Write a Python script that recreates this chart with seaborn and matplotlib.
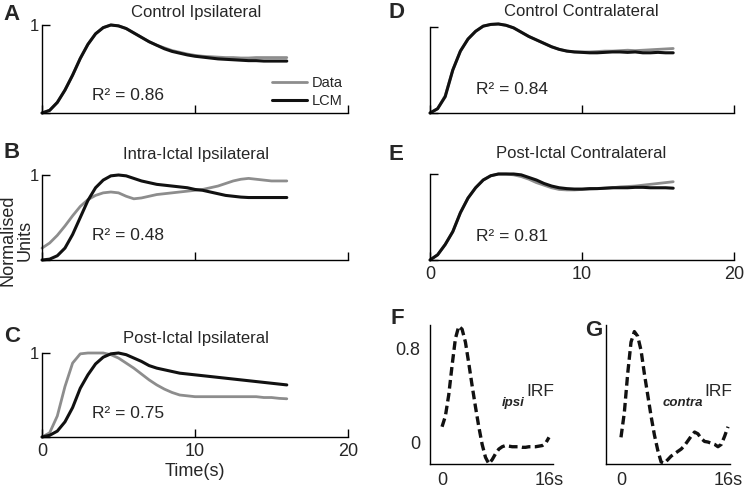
import matplotlib
matplotlib.use("Agg")
import matplotlib.pyplot as plt
import seaborn as sns

# -------------------------------
# Data
# -------------------------------
time_s = [0, 0.5, 1, 1.5, 2, 2.5, 3, 3.5, 4, 4.5, 5, 5.5, 6, 6.5, 7, 7.5,
          8, 8.5, 9, 9.5, 10, 10.5, 11, 11.5, 12, 12.5, 13, 13.5, 14, 14.5,
          15, 15.5, 16]

# A - Control Ipsilateral
a_data = [0, 0.03, 0.12, 0.26, 0.43, 0.62, 0.78, 0.90, 0.97, 1.0, 0.99, 0.96,
          0.91, 0.86, 0.81, 0.77, 0.74, 0.71, 0.69, 0.67, 0.655, 0.645, 0.64,
          0.635, 0.63, 0.63, 0.625, 0.625, 0.63, 0.63, 0.63, 0.63, 0.63]
a_lcm = [0, 0.03, 0.12, 0.26, 0.43, 0.62, 0.78, 0.90, 0.97, 1.0, 0.99, 0.96,
         0.91, 0.86, 0.81, 0.77, 0.73, 0.70, 0.68, 0.66, 0.645, 0.635, 0.625,
         0.615, 0.61, 0.605, 0.60, 0.595, 0.595, 0.59, 0.59, 0.59, 0.59]

# B - Intra-Ictal Ipsilateral
b_data = [0.14, 0.20, 0.29, 0.40, 0.52, 0.63, 0.71, 0.76, 0.79, 0.80, 0.79,
          0.75, 0.72, 0.73, 0.75, 0.77, 0.78, 0.79, 0.80, 0.81, 0.82, 0.83,
          0.85, 0.87, 0.90, 0.93, 0.95, 0.96, 0.95, 0.94, 0.93, 0.93, 0.93]
b_lcm = [0, 0.01, 0.05, 0.14, 0.30, 0.50, 0.70, 0.85, 0.94, 0.99, 1.0, 0.99,
         0.96, 0.93, 0.91, 0.89, 0.88, 0.87, 0.86, 0.85, 0.83, 0.82, 0.80,
         0.78, 0.76, 0.75, 0.74, 0.735, 0.735, 0.735, 0.735, 0.735, 0.735]

# C - Post-Ictal Ipsilateral
c_data = [0, 0.05, 0.25, 0.60, 0.88, 0.99, 1.0, 1.0, 1.0, 0.98, 0.94, 0.88,
          0.82, 0.75, 0.68, 0.62, 0.57, 0.53, 0.50, 0.49, 0.48, 0.48, 0.48,
          0.48, 0.48, 0.48, 0.48, 0.48, 0.48, 0.47, 0.47, 0.46, 0.455]
c_lcm = [0, 0.02, 0.07, 0.18, 0.35, 0.58, 0.74, 0.87, 0.95, 0.99, 1.0, 0.98,
         0.94, 0.90, 0.85, 0.82, 0.80, 0.78, 0.76, 0.75, 0.74, 0.73, 0.72,
         0.71, 0.70, 0.69, 0.68, 0.67, 0.66, 0.65, 0.64, 0.63, 0.62]

# D - Control Contralateral
d_data = [0, 0.05, 0.20, 0.50, 0.72, 0.86, 0.95, 1.01, 1.03, 1.035, 1.02,
          0.99, 0.94, 0.89, 0.85, 0.81, 0.77, 0.74, 0.72, 0.71, 0.71, 0.71,
          0.715, 0.72, 0.72, 0.725, 0.73, 0.725, 0.73, 0.735, 0.74, 0.745, 0.75]
d_lcm = [0, 0.05, 0.19, 0.50, 0.72, 0.86, 0.95, 1.01, 1.03, 1.035, 1.02,
         0.99, 0.94, 0.89, 0.85, 0.81, 0.77, 0.74, 0.72, 0.71, 0.705, 0.70,
         0.70, 0.705, 0.71, 0.71, 0.705, 0.71, 0.70, 0.70, 0.705, 0.70, 0.70]

# E - Post-Ictal Contralateral
e_data = [0, 0.06, 0.18, 0.33, 0.55, 0.72, 0.84, 0.93, 0.98, 1.0, 1.0, 0.99,
          0.97, 0.94, 0.90, 0.87, 0.84, 0.82, 0.815, 0.815, 0.82, 0.825, 0.83,
          0.835, 0.84, 0.85, 0.855, 0.86, 0.87, 0.88, 0.89, 0.90, 0.91]
e_lcm = [0, 0.06, 0.18, 0.33, 0.55, 0.72, 0.84, 0.93, 0.98, 1.0, 1.0, 1.0,
         0.99, 0.96, 0.93, 0.89, 0.86, 0.84, 0.83, 0.825, 0.825, 0.83, 0.83,
         0.835, 0.84, 0.84, 0.84, 0.845, 0.845, 0.84, 0.84, 0.84, 0.835]

# F / G - impulse response functions
ipsi_irf = [0.13, 0.22, 0.40, 0.65, 0.88, 0.985, 0.96, 0.85, 0.67, 0.48, 0.30,
            0.13, -0.02, -0.13, -0.185, -0.15, -0.10, -0.06, -0.04, -0.03,
            -0.035, -0.04, -0.04, -0.04, -0.045, -0.045, -0.04, -0.04, -0.04,
            -0.035, -0.03, -0.01, 0.04]
contra_irf = [0.04, 0.25, 0.58, 0.85, 0.94, 0.90, 0.78, 0.58, 0.40, 0.22, 0.06,
              -0.07, -0.17, -0.18, -0.15, -0.12, -0.10, -0.08, -0.06, -0.03,
              0.01, 0.05, 0.085, 0.07, 0.03, 0.005, 0.0, -0.01, -0.02, -0.04,
              -0.02, 0.05, 0.13]

panel_titles = ["Control Ipsilateral", "Intra-Ictal Ipsilateral",
                "Post-Ictal Ipsilateral", "Control Contralateral",
                "Post-Ictal Contralateral"]
r2_labels = ["R² = 0.86", "R² = 0.48", "R² = 0.75", "R² = 0.84", "R² = 0.81"]
resp_xticks = [0, 10, 20]
irf_xticks = [0, 16]
irf_xticklabels = ["0", "16s"]
irf_yticks = [0, 0.8]
irf_yticklabels = ["0", "0.8"]

# -------------------------------
# Figure setup (pixel helpers)
# -------------------------------
W, H = 746, 488
GRAY = "#8d8d8d"
BLACK = "#111111"

sns.set_style("white")
plt.rcParams["font.family"] = ["Liberation Sans", "DejaVu Sans"]

fig = plt.figure(figsize=(W / 100, H / 100), dpi=100)


def px_axes(left, right, top, bottom):
    return fig.add_axes([left / W, 1 - bottom / H, (right - left) / W, (bottom - top) / H])


def px_text(x, y, s, **kw):
    kw.setdefault("ha", "center")
    kw.setdefault("va", "center")
    return fig.text(x / W, 1 - y / H, s, **kw)


def style_axes(ax):
    sns.despine(ax=ax)
    for side in ["left", "bottom"]:
        ax.spines[side].set_color("black")
        ax.spines[side].set_linewidth(1.0)
    ax.set_xlabel("")
    ax.set_ylabel("")


# -------------------------------
# Panels A-E: response fits
# -------------------------------
# (data, lcm, rect(l, r, top, bottom), show "1", show x labels, letter, letter pos, title y, r2 pos)
panels = [
    (a_data, a_lcm, (42, 348, 25, 113), True, False, "A", (11, 14), 12.5, (128, 95)),
    (b_data, b_lcm, (42, 348, 175, 260), True, False, "B", (12, 153), 155, (128, 236)),
    (c_data, c_lcm, (42, 348, 353, 437), True, True, "C", (12, 336), 338, (128, 413)),
    (d_data, d_lcm, (430, 734, 27, 113), False, False, "D", (396, 12), 12, (512, 89)),
    (e_data, e_lcm, (430, 734, 174, 260), False, True, "E", (396, 154), 153, (512, 237)),
]

for i, (data, lcm, rect, show_one, show_x, letter, lpos, title_y, r2pos) in enumerate(panels):
    ax = px_axes(*rect)
    sns.lineplot(x=time_s, y=data, ax=ax, color=GRAY, lw=2.0, clip_on=False, label="Data")
    sns.lineplot(x=time_s, y=lcm, ax=ax, color=BLACK, lw=2.2, clip_on=False, label="LCM")
    ax.set_xlim(0, 20)
    ax.set_ylim(0, 1)
    style_axes(ax)
    ax.set_xticks(resp_xticks)
    ax.set_yticks([0, 1])
    ax.tick_params(bottom=True, left=True, direction="in", length=6, width=1,
                   color="black", labelsize=13, pad=4)
    ax.tick_params(axis="y", labelsize=12, pad=2)
    if show_x:
        ax.set_xticklabels([str(v) for v in resp_xticks])
    else:
        ax.set_xticklabels([])
    ax.set_yticklabels(["", "1"] if show_one else [])

    if i == 0:
        handles = ax.get_lines()[:2]
        ax.legend(handles, ["Data", "LCM"], loc="upper left",
                  bbox_to_anchor=(272 / W, 1 - 76 / H), bbox_transform=fig.transFigure,
                  frameon=False, fontsize=10.5, handlelength=2.4, handletextpad=0.35,
                  labelspacing=0.25, borderpad=0, borderaxespad=0)
    else:
        leg = ax.get_legend()
        if leg is not None:
            leg.remove()

    cx = (rect[0] + rect[1]) / 2 + 1
    px_text(cx if i < 3 else 581, title_y, panel_titles[i], fontsize=12)
    px_text(r2pos[0], r2pos[1], r2_labels[i], fontsize=12.5)
    px_text(lpos[0], lpos[1], letter, fontsize=16, fontweight="bold")

# -------------------------------
# Panels F and G: IRFs
# -------------------------------
irf_panels = [
    (ipsi_irf, (430, 553, 325, 464), (-1.8, 16.6), True, "F", (397, 318), "ipsi", 525),
    (contra_irf, (606, 730, 325, 464), (-2.24, 16.3), False, "G", (594, 330), "contra", 703),
]

for irf, rect, xlim, show_y, letter, lpos, sub, jx in irf_panels:
    ax = px_axes(*rect)
    sns.lineplot(x=time_s, y=irf, ax=ax, color=BLACK, lw=2.4, clip_on=False,
                 linestyle=(0, (2.6, 1.3)))
    ax.set_xlim(*xlim)
    ax.set_ylim(-0.187, 0.996)
    style_axes(ax)
    ax.set_xticks(irf_xticks)
    ax.set_xticklabels(irf_xticklabels)
    ax.set_yticks(irf_yticks)
    ax.set_yticklabels(irf_yticklabels if show_y else [])
    ax.tick_params(length=0, labelsize=13)
    ax.tick_params(axis="x", pad=6)
    ax.tick_params(axis="y", pad=7)
    px_text(jx, 403, sub, fontsize=9.5, fontweight="bold", fontstyle="italic", ha="right")
    px_text(jx + 1, 392, "IRF", fontsize=12.5, ha="left")
    px_text(lpos[0], lpos[1], letter, fontsize=16, fontweight="bold")

# shared labels
px_text(16.5, 240, "Normalised\nUnits", fontsize=13, rotation=90, linespacing=0.95)
px_text(195, 472, "Time(s)", fontsize=13)

fig.savefig("out.png", dpi=100)
